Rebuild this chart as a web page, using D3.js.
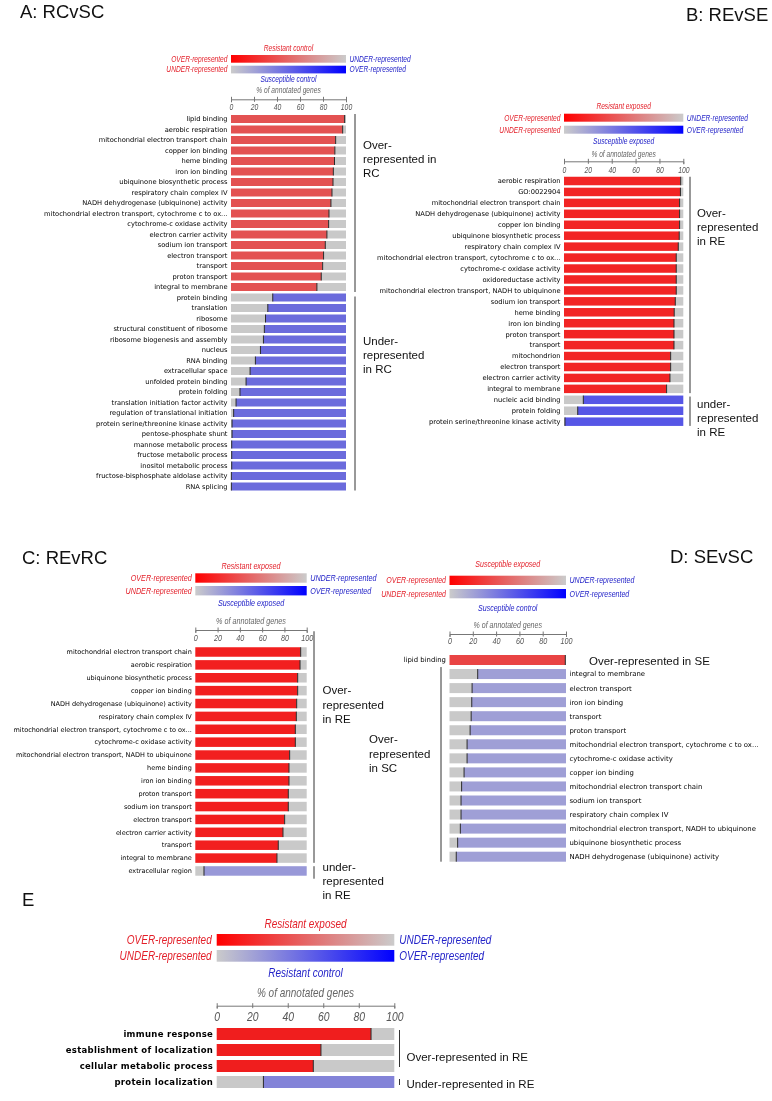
<!DOCTYPE html>
<html>
<head>
<meta charset="utf-8">
<script src="https://cdn.jsdelivr.net/npm/d3@7"></script>
<style>
  body { margin: 0; background: #fff; }
  svg { will-change: transform; }
  svg text { font-family: "DejaVu Sans", sans-serif; }
  .title, .ann { font-family: "Liberation Sans", Arial, sans-serif; }
  .lg { font-family: "Liberation Sans", Arial, sans-serif; font-style: italic; }
</style>
</head>
<body>
<div id="container"></div>
<script>
/* DATA */
// A: RCvSC
const aOverTerms = ["lipid binding", "aerobic respiration", "mitochondrial electron transport chain",
  "copper ion binding", "heme binding", "iron ion binding", "ubiquinone biosynthetic process",
  "respiratory chain complex IV", "NADH dehydrogenase (ubiquinone) activity",
  "mitochondrial electron transport, cytochrome c to ox...", "cytochrome-c oxidase activity",
  "electron carrier activity", "sodium ion transport", "electron transport", "transport",
  "proton transport", "integral to membrane"];
const aOverValues = [98.8, 97.1, 91, 90.3, 90, 89, 88.7, 87.8, 86.9, 85.2, 84.9, 83.4, 82, 80.5, 79.7, 78.5, 74.7];
const aUnderTerms = ["protein binding", "translation", "ribosome", "structural constituent of ribosome",
  "ribosome biogenesis and assembly", "nucleus", "RNA binding", "extracellular space",
  "unfolded protein binding", "protein folding", "translation initiation factor activity",
  "regulation of translational initiation", "protein serine/threonine kinase activity",
  "pentose-phosphate shunt", "mannose metabolic process", "fructose metabolic process",
  "inositol metabolic process", "fructose-bisphosphate aldolase activity", "RNA splicing"];
const aUnderValues = [36.3, 32, 30, 29, 28.2, 25.6, 21.2, 16.6, 13.1, 7.8, 4.4, 2.3, 0.9, 0.9, 0.6, 0.6, 0.6, 0.3, 0.3];

// B: REvSE
const bOverTerms = ["aerobic respiration", "GO:0022904", "mitochondrial electron transport chain",
  "NADH dehydrogenase (ubiquinone) activity", "copper ion binding", "ubiquinone biosynthetic process",
  "respiratory chain complex IV", "mitochondrial electron transport, cytochrome c to ox...",
  "cytochrome-c oxidase activity", "oxidoreductase activity",
  "mitochondrial electron transport, NADH to ubiquinone", "sodium ion transport", "heme binding",
  "iron ion binding", "proton transport", "transport", "mitochondrion", "electron transport",
  "electron carrier activity", "integral to membrane"];
const bOverValues = [97.8, 97.6, 96.9, 96.9, 96.9, 96.6, 95.8, 94.1, 94.1, 94.1, 94.1, 93.3, 92.4, 92.2, 92.2, 92.2, 89.4, 89.4, 88.8, 86];
const bUnderTerms = ["nucleic acid binding", "protein folding", "protein serine/threonine kinase activity"];
const bUnderValues = [16.2, 11.5, 0.8];

// C: REvRC
const cOverTerms = ["mitochondrial electron transport chain", "aerobic respiration",
  "ubiquinone biosynthetic process", "copper ion binding", "NADH dehydrogenase (ubiquinone) activity",
  "respiratory chain complex IV", "mitochondrial electron transport, cytochrome c to ox...",
  "cytochrome-c oxidase activity", "mitochondrial electron transport, NADH to ubiquinone",
  "heme binding", "iron ion binding", "proton transport", "sodium ion transport",
  "electron transport", "electron carrier activity", "transport", "integral to membrane"];
const cOverValues = [94.6, 94, 91.9, 91.9, 91, 90.7, 89.8, 89.8, 84.7, 84.1, 84.1, 83.5, 83.5, 80.2, 78.7, 74.5, 73.3];
const cUnderTerms = ["extracellular region"];
const cUnderValues = [7.8];

// D: SEvSC
const dOverTerms = ["lipid binding"];
const dOverValues = [99.4];
const dUnderTerms = ["integral to membrane", "electron transport", "iron ion binding", "transport",
  "proton transport", "mitochondrial electron transport, cytochrome c to ox...",
  "cytochrome-c oxidase activity", "copper ion binding", "mitochondrial electron transport chain",
  "sodium ion transport", "respiratory chain complex IV",
  "mitochondrial electron transport, NADH to ubiquinone", "ubiquinone biosynthetic process",
  "NADH dehydrogenase (ubiquinone) activity"];
const dUnderValues = [24.2, 19.4, 19.1, 18.6, 17.7, 15.1, 15.1, 12.5, 10.4, 9.9, 9.9, 9.3, 7, 5.8];

// E
const eOverTerms = ["immune response", "establishment of localization", "cellular metabolic process"];
const eOverValues = [86.9, 58.7, 54.4];
const eUnderTerms = ["protein localization"];
const eUnderValues = [26.3];

const tickValues = [0, 20, 40, 60, 80, 100];
const legendLeft = ["OVER-represented", "UNDER-represented"];
const legendRight = ["UNDER-represented", "OVER-represented"];

/* LAYOUT */
const condense = 0.8; // legend font is a narrow italic

const panels = [
  {
    id: "A", title: "A: RCvSC", titleX: 20, titleY: 18,
    top: "Resistant control", bottom: "Susceptible control",
    over: [aOverTerms, aOverValues], under: [aUnderTerms, aUnderValues],
    x0: 231, x1: 346, red: "#e35252", blue: "#6b6bdc",
    lg: { font: 8.3, topY: 51, redY: 55, blueY: 65.7, h: 7.7, bottomY: 82, unitY: 93.5, axisY: 99.3, tickY: 110, tickFont: 8.5 },
    rows: { first: 119, step: 10.5, h: 8, font: 6.7, weight: "normal", spacing: 0 },
    sides: ["left", "left"],
    brackets: [
      { group: "over", x: 355, padTop: 1, padBottom: 1, textX: 363, textY: 149, lineH: 14, font: 11.5, lines: ["Over-", "represented in", "RC"] },
      { group: "under", x: 355, padTop: -3, padBottom: 0, textX: 363, textY: 345, lineH: 14, font: 11.5, lines: ["Under-", "represented", "in RC"] }
    ]
  },
  {
    id: "B", title: "B: REvSE", titleX: 686, titleY: 21,
    top: "Resistant exposed", bottom: "Susceptible exposed",
    over: [bOverTerms, bOverValues], under: [bUnderTerms, bUnderValues],
    x0: 564, x1: 683.3, red: "#f22424", blue: "#5656e6",
    lg: { font: 8.3, topY: 109, redY: 113.7, blueY: 125.7, h: 8, bottomY: 144, unitY: 157, axisY: 161.3, tickY: 173, tickFont: 8.5 },
    rows: { first: 181, step: 10.94, h: 8.5, font: 6.7, weight: "normal", spacing: 0 },
    sides: ["left", "left"],
    brackets: [
      { group: "over", x: 690, padTop: 0, padBottom: 0, textX: 697, textY: 217, lineH: 14, font: 11.5, lines: ["Over-", "represented", "in RE"] },
      { group: "under", x: 690, padTop: -1, padBottom: 0, textX: 697, textY: 408, lineH: 14, font: 11.5, lines: ["under-", "represented", "in RE"] }
    ]
  },
  {
    id: "C", title: "C: REvRC", titleX: 22, titleY: 564,
    top: "Resistant exposed", bottom: "Susceptible exposed",
    over: [cOverTerms, cOverValues], under: [cUnderTerms, cUnderValues],
    x0: 195.3, x1: 306.7, red: "#f21f1f", blue: "#9898d8",
    lg: { font: 9, topY: 569, redY: 573.3, blueY: 586, h: 9.4, bottomY: 606.5, unitY: 624, axisY: 630, tickY: 641, tickFont: 9 },
    rows: { first: 652, step: 12.88, h: 9.5, font: 6.5, weight: "normal", spacing: 0 },
    sides: ["left", "left"],
    brackets: [
      { group: "over", x: 314, padTop: 16, padBottom: 0, textX: 322.5, textY: 694, lineH: 14.5, font: 11.5, lines: ["Over-", "represented", "in RE"] },
      { group: "under", x: 314, padTop: 0, padBottom: 3, textX: 322.5, textY: 871, lineH: 14, font: 11.5, lines: ["under-", "represented", "in RE"] }
    ]
  },
  {
    id: "D", title: "D: SEvSC", titleX: 670, titleY: 563,
    top: "Susceptible exposed", bottom: "Susceptible control",
    over: [dOverTerms, dOverValues], under: [dUnderTerms, dUnderValues],
    x0: 449.5, x1: 566, red: "#e94444", blue: "#9f9fd6",
    lg: { font: 8.8, topY: 567, redY: 575.7, blueY: 589, h: 9.3, bottomY: 611, unitY: 628, axisY: 634, tickY: 644, tickFont: 9 },
    rows: { first: 660, step: 14.05, h: 10, font: 6.9, weight: "normal", spacing: 0 },
    sides: ["left", "right"],
    brackets: [
      { group: "over", x: null, textX: 589, textY: 664.5, lineH: 14, font: 11.5, lines: ["Over-represented in SE"] },
      { group: "under", x: 441, padTop: 2, padBottom: 0, textX: 369, textY: 743, lineH: 14.5, font: 11.5, lines: ["Over-", "represented", "in SC"] }
    ]
  },
  {
    id: "E", title: "E", titleX: 22, titleY: 906,
    top: "Resistant exposed", bottom: "Resistant control",
    over: [eOverTerms, eOverValues], under: [eUnderTerms, eUnderValues],
    x0: 216.7, x1: 394.3, red: "#f01e1e", blue: "#8383d8",
    lg: { font: 12.5, topY: 928.5, redY: 934, blueY: 950, h: 11.7, bottomY: 977.5, unitY: 997.5, axisY: 1005.7, tickY: 1021, tickFont: 13 },
    rows: { first: 1034, step: 16, h: 12, font: 8.5, weight: "bold", spacing: 0.3 },
    sides: ["left", "left"],
    brackets: [
      { group: "over", x: 399.5, padTop: -2, padBottom: -5, textX: 406.5, textY: 1061, lineH: 14, font: 11.5, lines: ["Over-represented in RE"] },
      { group: "under", x: 399.5, padTop: -3, padBottom: -3, textX: 406.5, textY: 1087.5, lineH: 14, font: 11.5, lines: ["Under-represented in RE"] }
    ]
  }
];

const svg = d3.select("#container")
  .append("svg")
  .attr("width", 772)
  .attr("height", 1101);
const defs = svg.append("defs");

panels.forEach(drawPanel);

// squeeze the legend texts horizontally round their anchor point
svg.selectAll("text.lg").each(function () {
  const t = d3.select(this);
  const tx = +t.attr("x") || 0, ty = +t.attr("y") || 0;
  t.attr("transform", `translate(${tx},${ty}) scale(${condense},1) translate(${-tx},${-ty})`);
});

function drawPanel(p) {
  const g = svg.append("g").attr("class", "panel-" + p.id);
  const terms = p.over[0].concat(p.under[0]);
  const values = p.over[1].concat(p.under[1]);
  const nOver = p.over[0].length;
  const kind = i => (i < nOver ? "over" : "under");

  const x = d3.scaleLinear().domain([0, 100]).range([p.x0, p.x1]);
  const pad = 1 - p.rows.h / p.rows.step;
  const top = p.rows.first - p.rows.step / 2;
  const y = d3.scaleBand()
    .domain(d3.range(terms.length))
    .range([top, top + terms.length * p.rows.step])
    .paddingInner(pad)
    .paddingOuter(pad / 2);

  // panel title
  g.append("text").attr("class", "title")
    .attr("x", p.titleX).attr("y", p.titleY)
    .attr("font-size", 18.5).attr("fill", "#111")
    .text(p.title);

  /* legend */
  const L = p.lg;
  const redId = "grad-red-" + p.id, blueId = "grad-blue-" + p.id;
  const gr = defs.append("linearGradient").attr("id", redId);
  gr.append("stop").attr("offset", 0).attr("stop-color", "#ff0000");
  gr.append("stop").attr("offset", 1).attr("stop-color", "#cbcbcb");
  const gb = defs.append("linearGradient").attr("id", blueId);
  gb.append("stop").attr("offset", 0).attr("stop-color", "#cbcbcb");
  gb.append("stop").attr("offset", 1).attr("stop-color", "#0000ff");

  g.append("rect").attr("x", x(0)).attr("y", L.redY).attr("width", x(100) - x(0)).attr("height", L.h)
    .attr("fill", `url(#${redId})`);
  g.append("rect").attr("x", x(0)).attr("y", L.blueY).attr("width", x(100) - x(0)).attr("height", L.h)
    .attr("fill", `url(#${blueId})`);

  const mid = (x(0) + x(100)) / 2;
  g.append("text").attr("class", "lg").attr("x", mid).attr("y", L.topY)
    .attr("text-anchor", "middle").attr("font-size", L.font).attr("fill", "#e3202a").text(p.top);
  g.append("text").attr("class", "lg").attr("x", mid).attr("y", L.bottomY)
    .attr("text-anchor", "middle").attr("font-size", L.font).attr("fill", "#2323c8").text(p.bottom);

  const side = p.id === "E" ? 5 : 3.5;
  [L.redY, L.blueY].forEach((yy, i) => {
    g.append("text").attr("class", "lg").attr("x", x(0) - side).attr("y", yy + L.h / 2 + L.font * 0.35)
      .attr("text-anchor", "end").attr("font-size", L.font).attr("fill", "#e3202a").text(legendLeft[i]);
    g.append("text").attr("class", "lg").attr("x", x(100) + side).attr("y", yy + L.h / 2 + L.font * 0.35)
      .attr("font-size", L.font).attr("fill", "#2323c8").text(legendRight[i]);
  });

  g.append("text").attr("class", "lg").attr("x", mid).attr("y", L.unitY)
    .attr("text-anchor", "middle").attr("font-size", L.font).attr("fill", "#666")
    .text("% of annotated genes");

  // axis
  const axis = d3.axisBottom(x).tickValues(tickValues).tickSizeOuter(0).tickSize(3);
  const ag = g.append("g")
    .attr("transform", `translate(0, ${L.axisY})`)
    .call(axis);
  ag.select(".domain").attr("stroke", "#777");
  ag.selectAll(".tick line").attr("stroke", "#777").attr("y1", -2.5).attr("y2", 2.5);
  ag.selectAll(".tick text")
    .attr("class", "lg")
    .attr("y", L.tickY - L.axisY).attr("dy", 0)
    .attr("font-size", L.tickFont).attr("fill", "#555");

  /* bars */
  const rows = g.selectAll("g.row")
    .data(d3.range(terms.length))
    .join("g")
    .attr("class", "row");

  // left segment
  rows.append("rect")
    .attr("x", x(0))
    .attr("y", i => y(i))
    .attr("width", i => x(values[i]) - x(0))
    .attr("height", y.bandwidth())
    .attr("fill", i => (kind(i) === "over" ? p.red : "#c9c9c9"));
  // right segment
  rows.append("rect")
    .attr("x", i => x(values[i]))
    .attr("y", i => y(i))
    .attr("width", i => x(100) - x(values[i]))
    .attr("height", y.bandwidth())
    .attr("fill", i => (kind(i) === "over" ? "#c9c9c9" : p.blue));
  // boundary mark
  rows.append("line")
    .attr("x1", i => x(values[i])).attr("x2", i => x(values[i]))
    .attr("y1", i => y(i)).attr("y2", i => y(i) + y.bandwidth())
    .attr("stroke", "#2a2a2a").attr("stroke-width", 1);

  // term labels
  rows.append("text")
    .attr("x", i => (p.sides[kind(i) === "over" ? 0 : 1] === "left" ? x(0) - 3.5 : x(100) + 3.5))
    .attr("y", i => y(i) + y.bandwidth() / 2)
    .attr("dy", "0.35em")
    .attr("text-anchor", i => (p.sides[kind(i) === "over" ? 0 : 1] === "left" ? "end" : "start"))
    .attr("font-size", p.rows.font)
    .attr("font-weight", p.rows.weight)
    .attr("letter-spacing", p.rows.spacing)
    .attr("fill", "#000")
    .text(i => terms[i]);

  /* group brackets */
  p.brackets.forEach(b => {
    const idx = b.group === "over" ? d3.range(0, nOver) : d3.range(nOver, terms.length);
    if (b.x !== null) {
      const y0 = y(idx[0]) - b.padTop;
      const y1 = y(idx[idx.length - 1]) + y.bandwidth() + b.padBottom;
      g.append("line")
        .attr("x1", b.x).attr("x2", b.x).attr("y1", y0).attr("y2", y1)
        .attr("stroke", "#333").attr("stroke-width", 1);
    }
    const t = g.append("text").attr("class", "ann")
      .attr("font-size", b.font).attr("fill", "#111");
    b.lines.forEach((ln, k) => {
      t.append("tspan").attr("x", b.textX).attr("y", b.textY + k * b.lineH).text(ln);
    });
  });
}
</script>
</body>
</html>
